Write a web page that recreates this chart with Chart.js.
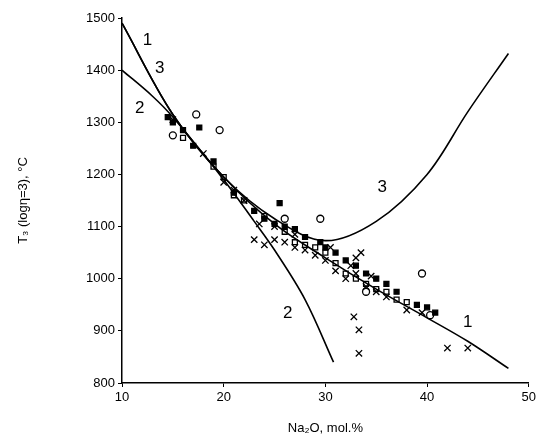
<!DOCTYPE html>
<html><head><meta charset="utf-8">
<script src="https://cdn.jsdelivr.net/npm/chart.js@4"></script>
<style>body{margin:0;background:#fff}#wrap{width:539px;height:440px}</style>
</head><body><div id="wrap"><canvas id="c"></canvas></div>
<script>
// curves
const curve1 = [[10,1490],[15,1315],[20,1195],[25,1105],[30,1040],[35,980],[40,925],[44,880],[48,828]];
const curve2 = [[10,1400],[13,1350],[15,1310],[20,1190],[23,1110],[25,1055],[28,960],[30.8,840]];
const curve3 = [[10,1490],[15,1315],[20,1195],[25,1115],[30,1073],[35,1110],[40,1200],[44,1320],[48,1432]];
// scatter data
const crosses = [[15,1305],[18,1240],[20,1185],[22,1150],[23,1075],[24,1065],[23.5,1105],[25,1075],[26,1070],[27,1060],[28,1055],[29,1045],[30,1035],[31,1015],[32,1000],[33,1040],[33,1010],[33.5,1050],[32.8,927],[33.3,902],[33.3,857],[34,985],[35,975],[36,965],[38,940],[39.5,935],[42,867],[44,867],[25,1100],[21,1170],[27,1085],[30.5,1060],[32.5,1025],[34.5,1005]];
const openSq = [[19,1215],[20,1195],[22,1150],[24,1120],[26,1090],[27,1070],[28,1065],[29,1060],[30,1050],[31,1030],[32,1010],[33,1000],[34,990],[35,980],[36,975],[37,960],[38,955],[16,1270],[21,1160]];
const filledSq = [[14.5,1310],[15,1300],[16,1285],[17,1255],[17.6,1290],[19,1225],[21,1165],[23,1130],[24,1115],[25,1105],[26,1100],[27,1095],[28,1080],[29.5,1070],[30,1060],[31,1050],[32,1035],[33,1025],[34,1010],[35,1000],[36,990],[37,975],[39,950],[40,945],[40.8,935],[25.5,1145]];
const circles = [[15,1275],[17.3,1315],[19.6,1285],[29.5,1115],[39.5,1010],[40.3,930],[26,1115],[34,975]];
// labels at data coords
const curveLabels = [["1",12.5,1458],["3",13.7,1404],["2",11.75,1327],["3",35.6,1176],["2",26.3,934],["1",44,917]];

const line = (d) => ({type:'line',data:d.map(p=>({x:p[0],y:p[1]})),borderColor:'#000',borderWidth:1.6,pointRadius:0,tension:0.35,fill:false,order:0});
const pts = (d, style, filled, r) => ({type:'scatter',data:d.map(p=>({x:p[0],y:p[1]})),pointStyle:style,pointRadius:r,borderColor:'#000',backgroundColor:filled?'#000':'rgba(0,0,0,0)',borderWidth:1.3});

const labelPlugin = {id:'lbl',afterDatasetsDraw(ch){
  const c=ch.ctx, xs=ch.scales.x, ys=ch.scales.y;
  c.save(); c.font='17px Arial, "Liberation Sans"'; c.fillStyle='#000'; c.textAlign='center'; c.textBaseline='middle';
  curveLabels.forEach(l=>c.fillText(l[0],xs.getPixelForValue(l[1]),ys.getPixelForValue(l[2])));
  c.restore();
}};

new Chart(document.getElementById('c'),{
  data:{datasets:[line(curve1),line(curve2),line(curve3),
    pts(crosses,'crossRot',false,4.5),pts(openSq,'rect',false,3.5),pts(filledSq,'rect',true,3.5),pts(circles,'circle',false,3.5)]},
  options:{responsive:true,maintainAspectRatio:false,animation:false,
    layout:{padding:{right:6,top:18,left:12}},
    plugins:{legend:{display:false},tooltip:{enabled:false}},
    scales:{
      x:{type:'linear',min:10,max:50,border:{color:'#000',width:1.5},
        afterFit:s=>{s.height=57;},
        grid:{drawOnChartArea:false,color:'#000',tickLength:4},
        ticks:{stepSize:10,color:'#000',font:{size:13,family:'Arial'},callback:v=>String(v)},
        title:{display:true,text:'Na₂O, mol.%',color:'#000',font:{size:13,family:'Arial'}}},
      y:{type:'linear',min:800,max:1500,border:{color:'#000',width:1.5},
        afterFit:s=>{s.width=110;},
        grid:{drawOnChartArea:false,color:'#000',tickLength:4},
        ticks:{stepSize:100,color:'#000',font:{size:13,family:'Arial'},callback:v=>String(v)},
        title:{display:true,text:'T₃ (logη=3), °C',color:'#000',font:{size:13,family:'Arial'}}}
    }},
  plugins:[labelPlugin]
});
</script></body></html>
